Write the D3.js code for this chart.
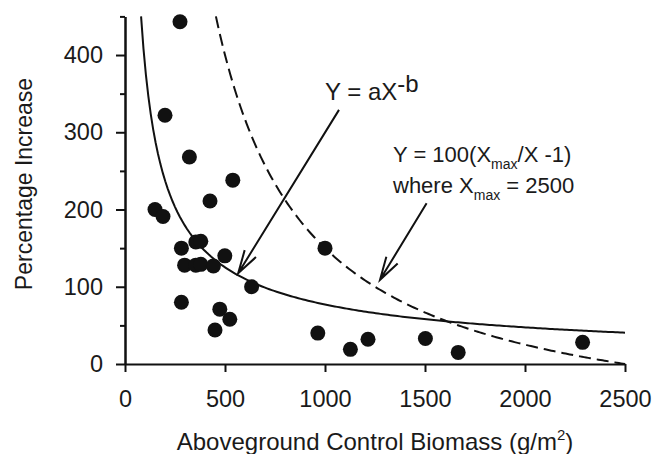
<!DOCTYPE html>
<html>
<head>
<meta charset="utf-8">
<script src="https://cdn.jsdelivr.net/npm/d3@7"></script>
<style>
  body { margin: 0; background: #fff; }
  text { font-family: "Liberation Sans", Arial, sans-serif; fill: #1a1a1a; }
</style>
</head>
<body>
<script>
// ================= Data ======================
const biomass = [275, 200, 322, 539, 150, 190, 425, 282, 354, 379, 499, 298, 354, 379, 442,
                 633, 282, 474, 524, 450, 1000, 964, 1127, 1215, 1502, 1666, 2288];
const increase = [443, 322, 268, 238, 200, 191, 211, 150, 158, 159, 140, 128, 128, 129, 127,
                  100, 80, 71, 58, 44, 150, 40, 19, 32, 33, 15, 28];

const xTicks = [0, 500, 1000, 1500, 2000, 2500];
const yTicks = [0, 100, 200, 300, 400];
const yMinorTicks = [50, 150, 250, 350, 450];

// fitted curves
const powA = 9700, powB = 0.7;   // Y = aX^-b
const xMax = 2500;               // Y = 100(Xmax/X - 1)

// ================== LAYOUT ===========================
const width = 652, height = 454;
const margin = {left: 125, right: 27, top: 16.4, bottom: 90};
const w = width - margin.left - margin.right;
const h = height - margin.top - margin.bottom;

const svg = d3.select("body").append("svg")
  .attr("width", width).attr("height", height);

const g = svg.append("g").attr("transform", `translate(${margin.left},${margin.top})`);

const x = d3.scaleLinear().domain([0, 2500]).range([0, w]);
const y = d3.scaleLinear().domain([0, 450]).range([h, 0]);

// ===================== AXES =======================
g.append("g").attr("class", "axis y-minor")
  .call(d3.axisLeft(y).tickValues(yMinorTicks).tickSize(5).tickFormat("").tickSizeOuter(0));
g.append("g").attr("class", "axis y")
  .call(d3.axisLeft(y).tickValues(yTicks).tickSize(9).tickPadding(13)
    .tickFormat(d3.format("d")).tickSizeOuter(0));
g.append("g").attr("class", "axis x")
  .attr("transform", `translate(0,${h})`)
  .call(d3.axisBottom(x).tickValues(xTicks).tickSize(8).tickPadding(18)
    .tickFormat(d3.format("d")).tickSizeOuter(0));

svg.selectAll(".axis path, .axis line").attr("stroke", "#111").attr("stroke-width", 2);
svg.selectAll(".axis text").attr("font-size", 23.5).attr("fill", "#1a1a1a")
  .style("font-family", "'Liberation Sans', Arial, sans-serif");

// axis titles
const xt = svg.append("text")
  .attr("x", margin.left + w / 2).attr("y", 450)
  .attr("text-anchor", "middle").attr("font-size", 24);
xt.append("tspan").text("Aboveground Control Biomass (g/m");
xt.append("tspan").attr("font-size", 15).attr("dy", -10).text("2");
xt.append("tspan").attr("dy", 10).text(")");

svg.append("text")
  .attr("transform", `translate(32,184) rotate(-90)`)
  .attr("text-anchor", "middle").attr("font-size", 23)
  .text("Percentage Increase");

// ==================== Curves ===========================
const powStart = Math.pow(powA / 450, 1 / powB);
const powData = d3.range(0, 201).map(i => {
  const xv = powStart + (2500 - powStart) * i / 200;
  return [xv, powA * Math.pow(xv, -powB)];
});
const limStart = xMax / (450 / 100 + 1);
const limData = d3.range(0, 201).map(i => {
  const xv = limStart + (xMax - limStart) * i / 200;
  return [xv, 100 * (xMax / xv - 1)];
});

const line = d3.line().x(d => x(d[0])).y(d => y(d[1]));

g.append("path").attr("d", line(powData))
  .attr("fill", "none").attr("stroke", "#111").attr("stroke-width", 2);
g.append("path").attr("d", line(limData))
  .attr("fill", "none").attr("stroke", "#111").attr("stroke-width", 2)
  .attr("stroke-dasharray", "12,6");

// ==================== Points ===========================
g.selectAll("circle.pt").data(biomass.map((b, i) => [b, increase[i]]))
  .join("circle").attr("class", "pt")
  .attr("cx", d => x(d[0])).attr("cy", d => y(d[1]))
  .attr("r", 7.5).attr("fill", "#111");

// ==================== Annotations ===========================
function arrow(from, to) {
  const x1 = x(from[0]), y1 = y(from[1]), x2 = x(to[0]), y2 = y(to[1]);
  const ang = Math.atan2(y1 - y2, x1 - x2);
  const len = 24, spread = 16 * Math.PI / 180;
  const h1 = [x2 + len * Math.cos(ang - spread), y2 + len * Math.sin(ang - spread)];
  const h2 = [x2 + len * Math.cos(ang + spread), y2 + len * Math.sin(ang + spread)];
  g.append("path")
    .attr("d", `M${x1},${y1}L${x2},${y2}M${h1[0]},${h1[1]}L${x2},${y2}L${h2[0]},${h2[1]}`)
    .attr("fill", "none").attr("stroke", "#111").attr("stroke-width", 2);
}
arrow([1070, 329], [566, 117.5]);
arrow([1508, 208], [1275, 109]);

const t1 = g.append("text").attr("x", x(1000)).attr("y", y(341.5)).attr("font-size", 24);
t1.append("tspan").text("Y = aX");
t1.append("tspan").attr("dy", -8).text("-b");

const t2 = g.append("text").attr("x", x(1340)).attr("y", y(261.5)).attr("font-size", 22);
t2.append("tspan").text("Y = 100(X");
t2.append("tspan").attr("font-size", 14).attr("dy", 7).text("max");
t2.append("tspan").attr("dy", -7).text("/X -1)");

const t3 = g.append("text").attr("x", x(1340)).attr("y", y(221.5)).attr("font-size", 22);
t3.append("tspan").text("where X");
t3.append("tspan").attr("font-size", 14).attr("dy", 7).text("max");
t3.append("tspan").attr("dy", -7).text(" = 2500");
</script>
</body>
</html>
